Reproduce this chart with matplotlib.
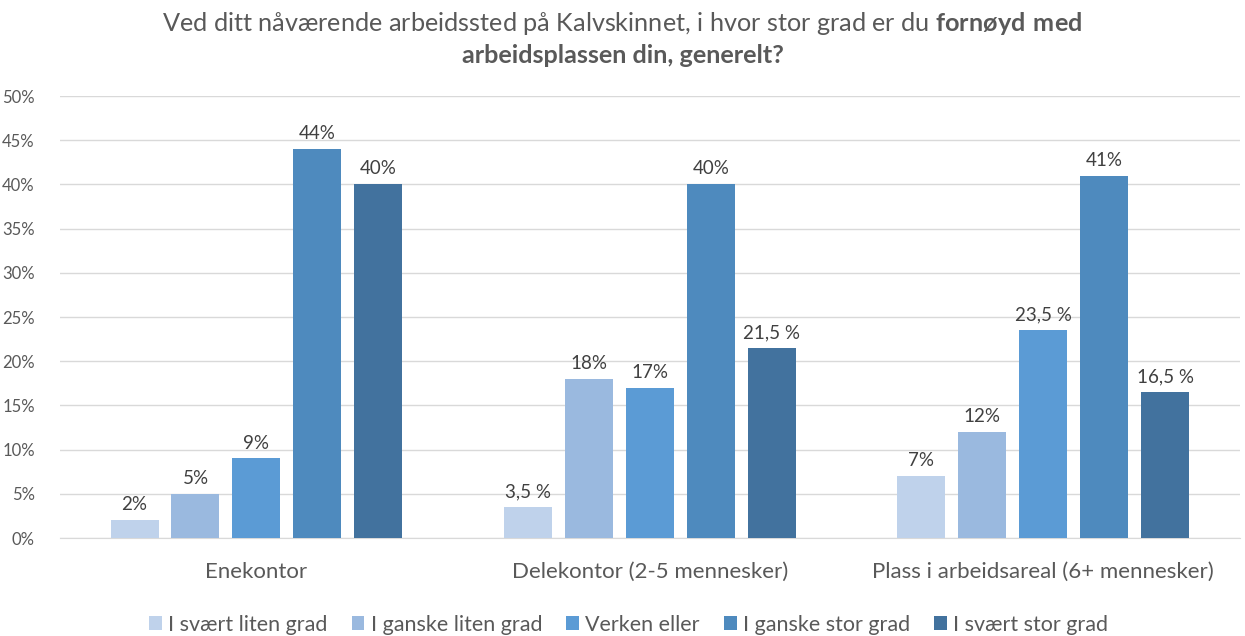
import matplotlib
matplotlib.use("Agg")
import matplotlib.pyplot as plt
import numpy as np

categories = ["Enekontor", "Delekontor (2-5 mennesker)", "Plass i arbeidsareal (6+ mennesker)"]
series_names = ["I svært liten grad", "I ganske liten grad", "Verken eller", "I ganske stor grad", "I svært stor grad"]
values = [
    [2, 3.5, 7],
    [5, 18, 12],
    [9, 17, 23.5],
    [44, 40, 41],
    [40, 21.5, 16.5],
]
labels = [
    ["2%", "3,5 %", "7%"],
    ["5%", "18%", "12%"],
    ["9%", "17%", "23,5 %"],
    ["44%", "40%", "41%"],
    ["40%", "21,5 %", "16,5 %"],
]
colors = ["#BFD2EB", "#9AB9DF", "#5B9BD5", "#4E8ABE", "#42729E"]
yticks = [0, 5, 10, 15, 20, 25, 30, 35, 40, 45, 50]

plt.rcParams['font.family'] = ['Lato', 'DejaVu Sans']
plt.rcParams['mathtext.fontset'] = 'custom'
plt.rcParams['mathtext.rm'] = 'Lato'
plt.rcParams['mathtext.bf'] = 'Lato:bold'
txt = "#595959"

fig = plt.figure(figsize=(12.45, 6.36), dpi=100)
ax = fig.add_axes([0.048, 0.154, 0.948, 0.695])

x = np.arange(len(categories))
step = 0.155
width = 0.122
for i, (name, vals, labs, c) in enumerate(zip(series_names, values, labels, colors)):
    pos = x + (i - 2) * step
    bars = ax.bar(pos, vals, width, color=c, label=name, zorder=3)
    for b, l in zip(bars, labs):
        ax.annotate(l, (b.get_x() + b.get_width() / 2, b.get_height()),
                    xytext=(0, 5), textcoords="offset points", ha="center", va="bottom",
                    fontsize=13.5, color="#404040")

ax.set_xlim(-0.5, 2.5)
ax.set_ylim(0, 50)
ax.set_yticks(yticks)
ax.set_yticklabels([f"{t}%" for t in yticks], fontsize=12, color=txt)
ax.set_xticks(x)
ax.set_xticklabels(categories, fontsize=16, color=txt)
ax.tick_params(axis="both", length=0)
ax.tick_params(axis="x", pad=17)
ax.tick_params(axis="y", pad=18)
ax.yaxis.grid(True, color="#D9D9D9", linewidth=1, zorder=0)
for s in ["top", "right", "left"]:
    ax.spines[s].set_visible(False)
ax.spines["bottom"].set_color("#D9D9D9")

fig.text(0.5, 0.963, "Ved ditt nåværende arbeidssted på Kalvskinnet, i hvor stor grad er du $\\bf{fornøyd\\ med}$",
         ha="center", va="center", fontsize=18.2, color=txt)
fig.text(0.5, 0.912, "arbeidsplassen din, generelt?", ha="center", va="center",
         fontsize=18.2, color=txt, fontweight="bold")

ax.legend(loc="upper center", bbox_to_anchor=(0.482, -0.13), ncol=5, frameon=False,
          fontsize=15.5, labelcolor=txt, handlelength=0.6, handleheight=0.6,
          handletextpad=0.3, columnspacing=1.1)

fig.savefig("out.png", dpi=100)
